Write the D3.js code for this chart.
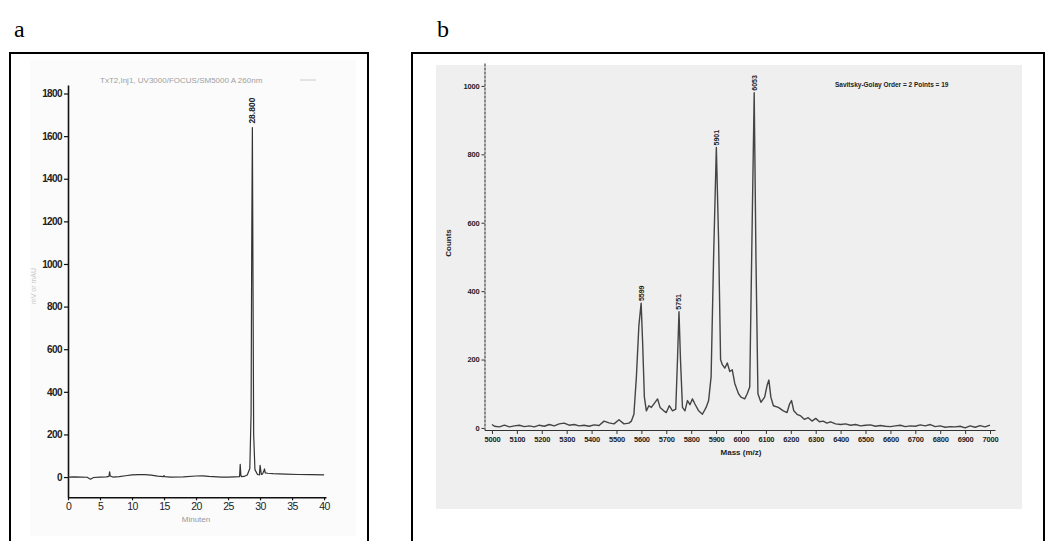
<!DOCTYPE html>
<html>
<head>
<meta charset="utf-8">
<script src="https://cdn.jsdelivr.net/npm/d3@7"></script>
<style>
  html, body { margin: 0; padding: 0; background: #fff; }
  svg { display: block; }
  text { font-family: "Liberation Sans", Arial, sans-serif; }
</style>
</head>
<body>
<svg id="fig" width="1046" height="541"></svg>
<script>
// ---- Panel a: HPLC chromatogram (UV 260 nm) ----
const hplcTime = [0, 1, 2, 3, 3.5, 4, 5, 6, 6.4, 6.5, 6.6, 7, 8, 9, 10, 11, 12, 13, 14, 14.9, 15, 15.1, 16, 18, 20, 21, 22, 24, 25, 26, 26.8, 26.9, 27.0, 27.1, 27.5, 28.0, 28.4, 28.6, 28.7, 28.8, 28.9, 29.0, 29.2, 29.6, 29.9, 30.0, 30.2, 30.4, 30.6, 30.7, 30.8, 31.2, 32, 34, 36, 38, 40];
const hplcSignal = [0, 1, 0, -1, -10, -2, 0, 1, 3, 25, 5, 0, 2, 6, 10, 11, 11, 9, 4, 2, 7, 2, 0, 1, 5, 6, 3, 0, 0, 1, 2, 60, 8, 2, 3, 10, 40, 300, 1100, 1640, 900, 200, 35, 12, 10, 55, 12, 15, 30, 38, 20, 18, 16, 14, 12, 11, 10];
const hplcYTicks = [0, 200, 400, 600, 800, 1000, 1200, 1400, 1600, 1800];
const hplcXTicks = [0, 5, 10, 15, 20, 25, 30, 35, 40];
const hplcPeakTime = 28.8;
const hplcPeakValue = 1640;
const hplcPeakLabel = "28.800";

// ---- Panel b: MALDI-TOF mass spectrum ----
const msMass = [5000, 5010, 5030, 5050, 5070, 5090, 5110, 5130, 5150, 5170, 5190, 5210, 5230, 5250, 5270, 5290, 5310, 5330, 5350, 5370, 5390, 5410, 5430, 5450, 5470, 5490, 5510, 5530, 5550, 5560, 5570, 5580, 5590, 5599, 5605, 5612, 5620, 5630, 5640, 5655, 5665, 5675, 5690, 5700, 5712, 5725, 5738, 5745, 5751, 5757, 5765, 5775, 5785, 5795, 5805, 5815, 5830, 5845, 5860, 5870, 5880, 5890, 5901, 5910, 5918, 5925, 5935, 5945, 5955, 5965, 5975, 5990, 6000, 6015, 6025, 6035, 6045, 6053, 6060, 6068, 6080, 6095, 6105, 6112, 6120, 6130, 6150, 6170, 6185, 6195, 6203, 6212, 6225, 6240, 6255, 6270, 6285, 6300, 6315, 6330, 6345, 6360, 6380, 6400, 6420, 6440, 6460, 6480, 6500, 6520, 6540, 6560, 6580, 6600, 6620, 6640, 6660, 6680, 6700, 6720, 6740, 6760, 6780, 6800, 6820, 6840, 6860, 6880, 6900, 6920, 6940, 6960, 6980, 7000];
const msCounts = [10, 5, 3, 8, 3, 6, 8, 4, 6, 3, 8, 5, 10, 6, 12, 14, 8, 10, 6, 8, 5, 9, 7, 20, 15, 12, 24, 12, 14, 20, 40, 150, 300, 365, 250, 90, 50, 65, 60, 75, 85, 60, 50, 45, 65, 50, 55, 200, 340, 200, 60, 50, 80, 68, 85, 70, 50, 40, 60, 80, 150, 500, 820, 550, 200, 185, 175, 190, 165, 170, 130, 100, 90, 85, 100, 120, 600, 980, 500, 100, 75, 90, 125, 140, 90, 65, 60, 50, 45, 70, 80, 50, 40, 35, 25, 30, 20, 28, 18, 20, 14, 18, 12, 10, 12, 8, 10, 6, 8, 9, 5, 7, 5, 4, 6, 8, 4, 6, 5, 9, 6, 10, 4, 6, 2, 4, 3, 5, 0, 6, 2, 7, 3, 8];
const msYTicks = [0, 200, 400, 600, 800, 1000];
const msXTicks = [5000, 5100, 5200, 5300, 5400, 5500, 5600, 5700, 5800, 5900, 6000, 6100, 6200, 6300, 6400, 6500, 6600, 6700, 6800, 6900, 7000];
const msPeakMass = [5599, 5751, 5901, 6053];
const msPeakCounts = [365, 340, 820, 980];

const svg = d3.select("#fig");
const plain = d3.format("d");

// panel letters
svg.append("text").attr("x", 14).attr("y", 37)
  .style("font-family", "'Liberation Serif', 'DejaVu Serif', serif")
  .style("font-size", "24px").text("a");
svg.append("text").attr("x", 437).attr("y", 37)
  .style("font-family", "'Liberation Serif', 'DejaVu Serif', serif")
  .style("font-size", "24px").text("b");

// frames (open at the bottom edge)
function frame(x0, x1) {
  svg.append("path")
    .attr("d", `M${x0},545 V53 H${x1} V545`)
    .attr("fill", "none").attr("stroke", "#000").attr("stroke-width", 2);
}

// ===================== Panel a =====================
svg.append("rect").attr("x", 30).attr("y", 60).attr("width", 326).attr("height", 476).attr("fill", "#fbfbfb");
frame(10, 368);

const ax = d3.scaleLinear().domain([0, 40.3]).range([68, 326]);
const ay = d3.scaleLinear().domain([-95, 1840]).range([497.3, 85]);

const gA = svg.append("g");
const yAxisA = gA.append("g").attr("transform", `translate(${ax(0)},0)`)
  .call(d3.axisLeft(ay).tickValues(hplcYTicks).tickFormat(plain).tickSize(4).tickSizeOuter(0).tickPadding(2));
const xAxisA = gA.append("g").attr("transform", `translate(0,${ay(-95)})`)
  .call(d3.axisBottom(ax).tickValues(hplcXTicks).tickFormat(plain).tickSize(3).tickSizeOuter(0).tickPadding(2));
[yAxisA, xAxisA].forEach(g => {
  g.select(".domain").attr("stroke", "#111").attr("stroke-width", 1.6);
  g.selectAll(".tick line").attr("stroke", "#111").attr("stroke-width", 1.2);
  g.selectAll(".tick text").attr("fill", "#222")
    .style("font-size", "10px").style("letter-spacing", "-0.6px").style("font-weight", "bold");
});
xAxisA.selectAll(".tick text").style("font-size", "10.5px").style("font-weight", "normal");

gA.append("text").attr("x", 196).attr("y", 522).attr("text-anchor", "middle")
  .attr("fill", "#999").style("font-size", "8px").text("Minuten");
gA.append("text").attr("transform", "translate(36,286) rotate(-90)").attr("text-anchor", "middle")
  .attr("fill", "#c8c8c8").style("font-size", "7px").text("mV or mAU");
gA.append("text").attr("x", 100).attr("y", 83)
  .attr("fill", "#a0a0a0").style("font-size", "8px").text("TxT2,Inj1, UV3000/FOCUS/SM5000 A 260nm");
gA.append("line").attr("x1", 300).attr("x2", 316).attr("y1", 80).attr("y2", 80)
  .attr("stroke", "#ccc").attr("stroke-width", 1);

const lineA = d3.line().x((d, i) => ax(hplcTime[i])).y(d => ay(d));
gA.append("path").datum(hplcSignal).attr("d", lineA)
  .attr("fill", "none").attr("stroke", "#333").attr("stroke-width", 1.2).attr("stroke-linejoin", "round");

gA.append("text")
  .attr("transform", `translate(${ax(hplcPeakTime) + 3},${ay(hplcPeakValue) - 4}) rotate(-90)`)
  .attr("fill", "#222").style("font-size", "8.5px").style("font-weight", "bold")
  .text(hplcPeakLabel);

// ===================== Panel b =====================
svg.append("rect").attr("x", 436).attr("y", 65).attr("width", 586).attr("height", 444).attr("fill", "#efefef");
frame(412, 1044);

const bx = d3.scaleLinear().domain([4970, 7020]).range([484.5, 995]);
const by = d3.scaleLinear().domain([-6, 1067]).range([430, 63]);

const gB = svg.append("g");
const yAxisB = gB.append("g").attr("transform", `translate(${bx(4970)},0)`)
  .call(d3.axisLeft(by).tickValues(msYTicks).tickFormat(plain).tickSize(3).tickSizeOuter(0).tickPadding(2));
const xAxisB = gB.append("g").attr("transform", `translate(0,${by(-6)})`)
  .call(d3.axisBottom(bx).tickValues(msXTicks).tickFormat(plain).tickSize(4).tickSizeOuter(0).tickPadding(3));
[yAxisB, xAxisB].forEach(g => {
  g.select(".domain").attr("stroke", "#333").attr("stroke-width", 1.1);
  g.selectAll(".tick line").attr("stroke", "#333");
  g.selectAll(".tick text").attr("fill", "#222")
    .style("font-size", "7.5px").style("font-weight", "bold").style("letter-spacing", "-0.2px");
});
yAxisB.select(".domain").attr("stroke-dasharray", "3,1");

gB.append("text").attr("x", 741).attr("y", 455).attr("text-anchor", "middle")
  .attr("fill", "#222").style("font-size", "8px").style("font-weight", "bold").text("Mass (m/z)");
gB.append("text").attr("transform", "translate(451,243) rotate(-90)").attr("text-anchor", "middle")
  .attr("fill", "#222").style("font-size", "8px").style("font-weight", "bold").text("Counts");
gB.append("text").attr("x", 835).attr("y", 87)
  .attr("fill", "#222").style("font-size", "6.5px").style("font-weight", "bold")
  .text("Savitsky-Golay Order = 2 Points = 19");

const lineB = d3.line().x((d, i) => bx(msMass[i])).y(d => by(d));
gB.append("path").datum(msCounts).attr("d", lineB)
  .attr("fill", "none").attr("stroke", "#444").attr("stroke-width", 1.4).attr("stroke-linejoin", "round");

gB.selectAll("text.peak").data(msPeakMass).join("text")
  .attr("class", "peak")
  .attr("transform", (d, i) => `translate(${bx(d) + 2.5},${by(msPeakCounts[i]) - 2}) rotate(-90)`)
  .attr("fill", "#222").style("font-size", "7px").style("font-weight", "bold")
  .text(d => d);
</script>
</body>
</html>
